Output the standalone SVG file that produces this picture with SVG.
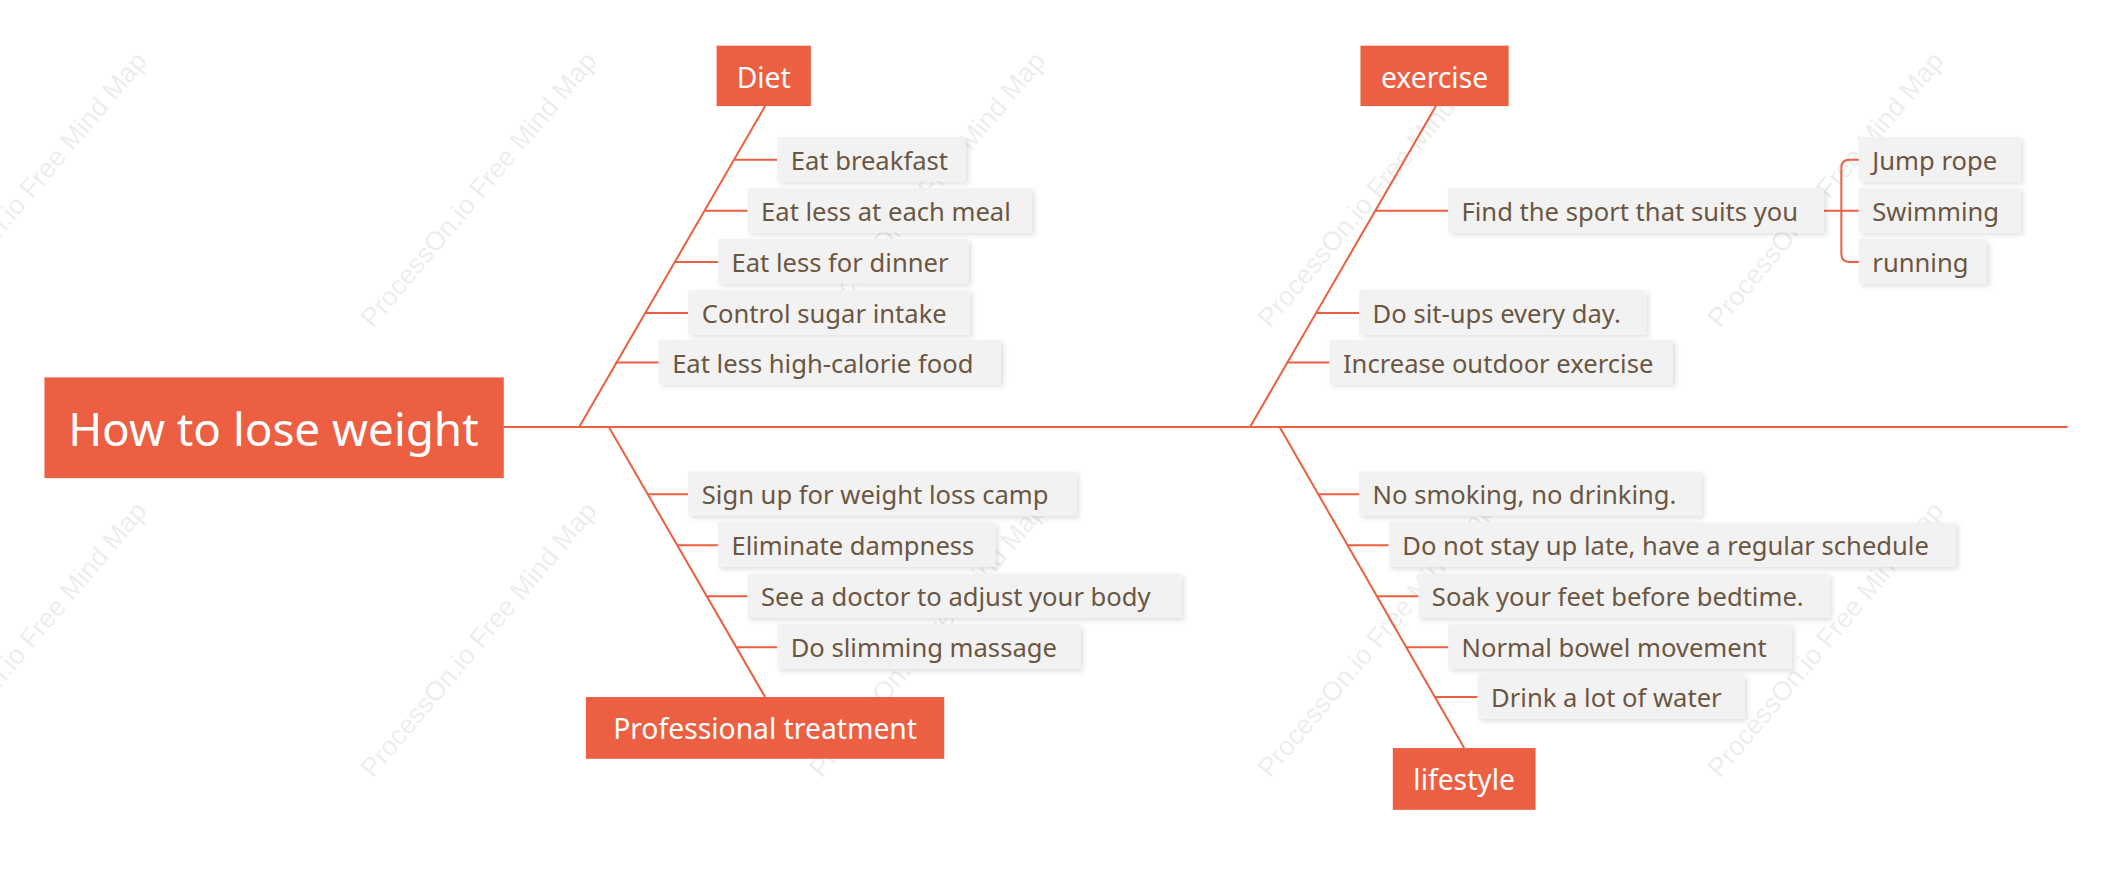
<svg xmlns="http://www.w3.org/2000/svg" width="2112" height="873" viewBox="0 0 2112 873">
<defs>
<filter id="sh" x="-10%" y="-20%" width="130%" height="160%"><feDropShadow dx="2" dy="2" stdDeviation="2" flood-color="#000" flood-opacity="0.12"/></filter>
<style>
.t{font-family:"Noto Sans","Liberation Sans",sans-serif;font-size:19px;fill:#6b5642;dominant-baseline:central}
.w{font-family:"Noto Sans","Liberation Sans",sans-serif;fill:#fff;dominant-baseline:central}
.b{fill:#f2f2f2;filter:url(#sh)}
.m{fill:#ec5f42}
.c{stroke:#ec5f42;stroke-width:1.5;fill:none}
.wm{font-family:"Liberation Sans",sans-serif;font-size:20px;fill:#000;opacity:0.07}
</style>
</defs>
<rect width="2112" height="873" fill="#fff"/>
<g transform="scale(1.347,1.343)">
<g id="watermarks">
<text class="wm" transform="translate(-57,245) rotate(-50)">ProcessOn.io Free Mind Map</text>
<text class="wm" transform="translate(277,245) rotate(-50)">ProcessOn.io Free Mind Map</text>
<text class="wm" transform="translate(610,245) rotate(-50)">ProcessOn.io Free Mind Map</text>
<text class="wm" transform="translate(943,245) rotate(-50)">ProcessOn.io Free Mind Map</text>
<text class="wm" transform="translate(1277,245) rotate(-50)">ProcessOn.io Free Mind Map</text>
<text class="wm" transform="translate(-57,580) rotate(-50)">ProcessOn.io Free Mind Map</text>
<text class="wm" transform="translate(277,580) rotate(-50)">ProcessOn.io Free Mind Map</text>
<text class="wm" transform="translate(610,580) rotate(-50)">ProcessOn.io Free Mind Map</text>
<text class="wm" transform="translate(943,580) rotate(-50)">ProcessOn.io Free Mind Map</text>
<text class="wm" transform="translate(1277,580) rotate(-50)">ProcessOn.io Free Mind Map</text>
</g>
<g id="connectors" class="c">
<path d="M374 318H1535"/>
<path d="M568 79L430 318"/>
<path d="M545 119H577M523 157H555M501 195H533M479 233H511M457 270H489"/>
<path d="M1066 79L928 318"/>
<path d="M1021 157H1075M977 233H1009M955 270H987"/>
<path d="M1354 157H1367M1380 119H1373Q1367 119 1367 125V189Q1367 195 1373 195H1380M1367 157H1380"/>
<path d="M452 318L568 519"/>
<path d="M481 368H511M503 406H533M525 444H555M547 482H577"/>
<path d="M950 318L1087 557"/>
<path d="M979 368H1009M1000 406H1031M1022 444H1053M1044 482H1075M1065 519H1097"/>
</g>
<g id="root"><rect class="m" x="33" y="281" width="341" height="75"/><text class="w" x="203" y="319" font-size="34" text-anchor="middle">How to lose weight</text></g>
<g id="diet"><rect class="m" x="532" y="34" width="70" height="45"/><text class="w" x="567" y="57" font-size="21" text-anchor="middle">Diet</text></g>
<g id="exercise"><rect class="m" x="1010" y="34" width="110" height="45"/><text class="w" x="1065" y="57" font-size="21" text-anchor="middle">exercise</text></g>
<g id="professional"><rect class="m" x="435" y="519" width="266" height="46"/><text class="w" x="568" y="542" font-size="21" text-anchor="middle">Professional treatment</text></g>
<g id="lifestyle"><rect class="m" x="1034" y="557" width="106" height="46"/><text class="w" x="1087" y="580" font-size="21" text-anchor="middle">lifestyle</text></g>
<g id="d1"><rect class="b" x="577" y="102" width="140" height="33"/><text class="t" x="587" y="119">Eat breakfast</text></g>
<g id="d2"><rect class="b" x="555" y="140" width="211" height="33"/><text class="t" x="565" y="157">Eat less at each meal</text></g>
<g id="d3"><rect class="b" x="533" y="178" width="186" height="33"/><text class="t" x="543" y="195">Eat less for dinner</text></g>
<g id="d4"><rect class="b" x="511" y="216" width="209" height="33"/><text class="t" x="521" y="233">Control sugar intake</text></g>
<g id="d5"><rect class="b" x="489" y="253" width="254" height="33"/><text class="t" x="499" y="270">Eat less high-calorie food</text></g>
<g id="e1"><rect class="b" x="1075" y="140" width="279" height="33"/><text class="t" x="1085" y="157">Find the sport that suits you</text></g>
<g id="e1a"><rect class="b" x="1380" y="102" width="120" height="33"/><text class="t" x="1390" y="119">Jump rope</text></g>
<g id="e1b"><rect class="b" x="1380" y="140" width="120" height="33"/><text class="t" x="1390" y="157">Swimming</text></g>
<g id="e1c"><rect class="b" x="1380" y="178" width="95" height="33"/><text class="t" x="1390" y="195">running</text></g>
<g id="e2"><rect class="b" x="1009" y="216" width="213" height="33"/><text class="t" x="1019" y="233">Do sit-ups every day.</text></g>
<g id="e3"><rect class="b" x="987" y="253" width="255" height="33"/><text class="t" x="997" y="270">Increase outdoor exercise</text></g>
<g id="p1"><rect class="b" x="511" y="351" width="288" height="33"/><text class="t" x="521" y="368">Sign up for weight loss camp</text></g>
<g id="p2"><rect class="b" x="533" y="389" width="206" height="33"/><text class="t" x="543" y="406">Eliminate dampness</text></g>
<g id="p3"><rect class="b" x="555" y="427" width="322" height="33"/><text class="t" x="565" y="444">See a doctor to adjust your body</text></g>
<g id="p4"><rect class="b" x="577" y="465" width="225" height="33"/><text class="t" x="587" y="482">Do slimming massage</text></g>
<g id="l1"><rect class="b" x="1009" y="351" width="254" height="33"/><text class="t" x="1019" y="368">No smoking, no drinking.</text></g>
<g id="l2"><rect class="b" x="1031" y="389" width="421" height="33"/><text class="t" x="1041" y="406">Do not stay up late, have a regular schedule</text></g>
<g id="l3"><rect class="b" x="1053" y="427" width="305" height="33"/><text class="t" x="1063" y="444">Soak your feet before bedtime.</text></g>
<g id="l4"><rect class="b" x="1075" y="465" width="255" height="33"/><text class="t" x="1085" y="482">Normal bowel movement</text></g>
<g id="l5"><rect class="b" x="1097" y="502" width="198" height="33"/><text class="t" x="1107" y="519">Drink a lot of water</text></g>
</g>
</svg>
